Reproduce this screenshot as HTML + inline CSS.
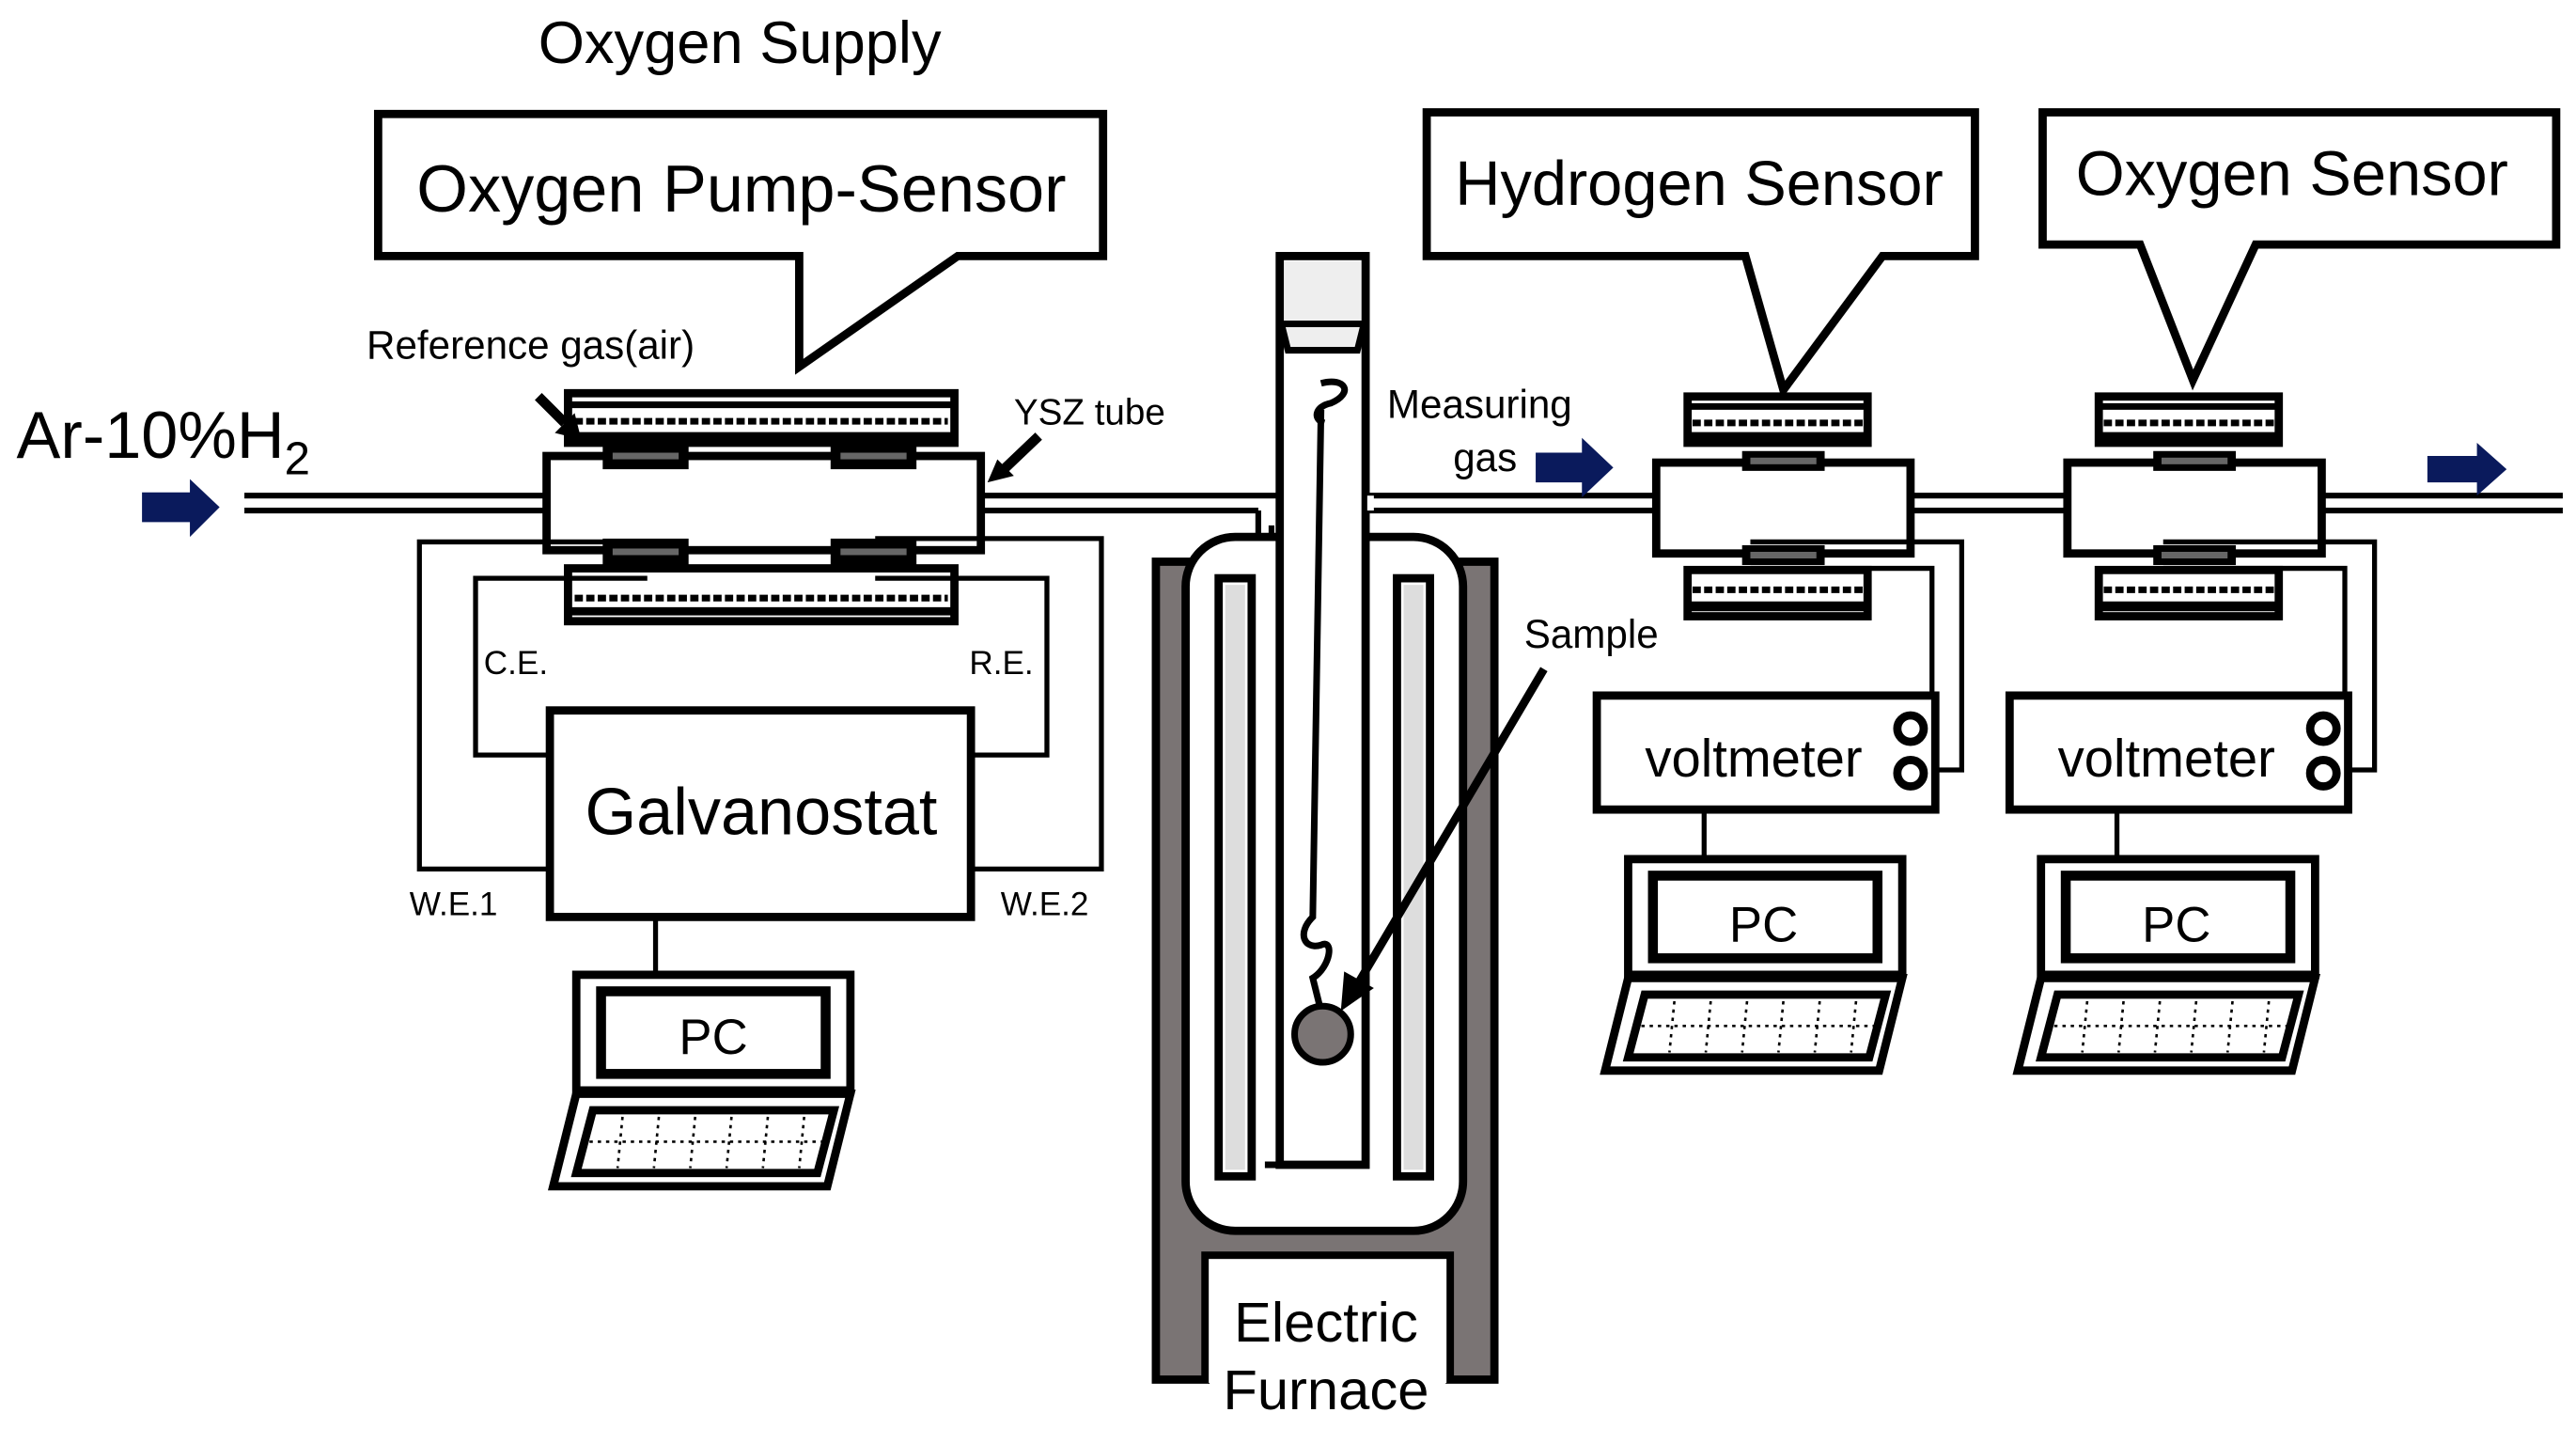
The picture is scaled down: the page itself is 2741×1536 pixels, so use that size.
<!DOCTYPE html>
<html><head><meta charset="utf-8"><style>
html,body{margin:0;padding:0;background:#fff;}
svg{display:block;}
text{font-family:"Liberation Sans",Arial,sans-serif;fill:#000;}
</style></head><body>
<svg width="2741" height="1536" viewBox="0 0 1560 874" preserveAspectRatio="none" xmlns="http://www.w3.org/2000/svg">
<defs>
<g id="pc">
  <rect x="0" y="0" width="166" height="70" fill="#fff" stroke="#000" stroke-width="5"/>
  <rect x="15" y="10" width="136" height="50" fill="#fff" stroke="#000" stroke-width="6"/>
  <path d="M0 72 L166 72 L152 128 L-14 128 Z" fill="#fff" stroke="#000" stroke-width="5"/>
  <path d="M10 82 L156 82 L146 120 L0 120 Z" fill="#fff" stroke="#000" stroke-width="5"/>
  <g stroke="#000" stroke-width="1.5" stroke-dasharray="2 3">
    <line x1="8" y1="101" x2="150" y2="101"/>
    <line x1="28" y1="86" x2="25" y2="117"/><line x1="50" y1="86" x2="47" y2="117"/>
    <line x1="72" y1="86" x2="69" y2="117"/><line x1="94" y1="86" x2="91" y2="117"/>
    <line x1="116" y1="86" x2="113" y2="117"/><line x1="138" y1="86" x2="135" y2="117"/>
  </g>
</g>
<g id="sens">
  <!-- top heater -->
  <rect x="19" y="0" width="109" height="28" fill="#fff" stroke="#000" stroke-width="5"/>
  <line x1="21" y1="6" x2="126" y2="6" stroke="#000" stroke-width="4"/>
  <line x1="22" y1="16" x2="125" y2="16" stroke="#000" stroke-width="4" stroke-dasharray="5 2"/>
  <line x1="21" y1="24" x2="126" y2="24" stroke="#000" stroke-width="5"/>
  <!-- body -->
  <rect x="0" y="40" width="154" height="55" fill="#fff" stroke="#000" stroke-width="5"/>
  <!-- electrodes -->
  <rect x="52" y="33" width="50" height="12" fill="#000"/><rect x="57" y="37" width="40" height="4" fill="#666"/>
  <rect x="52" y="90" width="50" height="12" fill="#000"/><rect x="57" y="94" width="40" height="4" fill="#666"/>
  <!-- bottom heater -->
  <rect x="19" y="105" width="109" height="28" fill="#fff" stroke="#000" stroke-width="5"/>
  <line x1="22" y1="117" x2="125" y2="117" stroke="#000" stroke-width="4" stroke-dasharray="5 2"/>
  <line x1="21" y1="127" x2="126" y2="127" stroke="#000" stroke-width="6"/>
</g>
</defs>

<!-- Titles -->
<text x="448" y="38" font-size="36" text-anchor="middle">Oxygen Supply</text>

<!-- Callout Oxygen pump-sensor -->
<path d="M229 69 L668 69 L668 155 L580 155 L484 222 L484 155 L229 155 Z" fill="#fff" stroke="#000" stroke-width="5"/>
<text x="449" y="128" font-size="40" text-anchor="middle">Oxygen Pump-Sensor</text>

<!-- Callout Hydrogen sensor -->
<path d="M864 68 L1196 68 L1196 155 L1140 155 L1080 236 L1057 155 L864 155 Z" fill="#fff" stroke="#000" stroke-width="5"/>
<text x="1029" y="124" font-size="38" text-anchor="middle">Hydrogen Sensor</text>

<!-- Callout Oxygen sensor -->
<path d="M1237 68 L1548 68 L1548 148 L1366 148 L1328 230 L1296 148 L1237 148 Z" fill="#fff" stroke="#000" stroke-width="5"/>
<text x="1388" y="118" font-size="38" text-anchor="middle">Oxygen Sensor</text>

<!-- Ar-10%H2 -->
<text x="10" y="277" font-size="40">Ar-10%H<tspan font-size="28" dy="10">2</tspan></text>
<path d="M86 298 L115 298 L115 290 L133 307 L115 325 L115 316 L86 316 Z" fill="#0a1a5c"/>

<!-- gas lines -->
<g stroke="#000" stroke-width="3.5" fill="none">
  <line x1="148" y1="300" x2="332" y2="300"/><line x1="148" y1="309" x2="332" y2="309"/>
  <line x1="594" y1="300" x2="773" y2="300"/><line x1="594" y1="309" x2="762" y2="309"/>
  <path d="M762 309 L762 708 L800 708"/>
  <path d="M770 318 L770 700"/>
  <line x1="828" y1="300" x2="1003" y2="300"/><line x1="828" y1="309" x2="1003" y2="309"/>
  <line x1="1157" y1="300" x2="1252" y2="300"/><line x1="1157" y1="309" x2="1252" y2="309"/>
  <line x1="1407" y1="300" x2="1552" y2="300"/><line x1="1407" y1="309" x2="1552" y2="309"/>
</g>

<!-- Pump-sensor -->
<rect x="344" y="238" width="234" height="30" fill="#fff" stroke="#000" stroke-width="5"/>
<line x1="346" y1="245" x2="576" y2="245" stroke="#000" stroke-width="4"/>
<line x1="348" y1="255" x2="574" y2="255" stroke="#000" stroke-width="4" stroke-dasharray="5 2"/>
<line x1="346" y1="264" x2="576" y2="264" stroke="#000" stroke-width="5"/>
<rect x="331" y="276" width="263" height="57" fill="#fff" stroke="#000" stroke-width="5"/>
<rect x="344" y="344" width="234" height="32" fill="#fff" stroke="#000" stroke-width="5"/>
<line x1="348" y1="362" x2="574" y2="362" stroke="#000" stroke-width="4" stroke-dasharray="5 2"/>
<line x1="346" y1="370" x2="576" y2="370" stroke="#000" stroke-width="5"/>
<rect x="365" y="268" width="52" height="16" fill="#000"/><rect x="371" y="274" width="40" height="4" fill="#666"/>
<rect x="503" y="268" width="52" height="16" fill="#000"/><rect x="509" y="274" width="40" height="4" fill="#666"/>
<rect x="365" y="326" width="52" height="16" fill="#000"/><rect x="371" y="332" width="40" height="4" fill="#666"/>
<rect x="503" y="326" width="52" height="16" fill="#000"/><rect x="509" y="332" width="40" height="4" fill="#666"/>

<!-- pump wires -->
<g stroke="#000" stroke-width="3" fill="none">
  <path d="M392 328 L254 328 L254 526 L333 526"/>
  <path d="M392 350 L288 350 L288 457 L333 457"/>
  <path d="M530 326 L667 326 L667 526 L588 526"/>
  <path d="M530 350 L634 350 L634 457 L588 457"/>
  <line x1="397" y1="555" x2="397" y2="590"/>
</g>
<rect x="333" y="430" width="255" height="125" fill="#fff" stroke="#000" stroke-width="5"/>
<text x="461" y="505" font-size="40" text-anchor="middle">Galvanostat</text>
<text x="293" y="408" font-size="20">C.E.</text>
<text x="587" y="408" font-size="20">R.E.</text>
<text x="248" y="554" font-size="20">W.E.1</text>
<text x="606" y="554" font-size="20">W.E.2</text>
<use href="#pc" x="349" y="590"/>
<text x="432" y="638" font-size="30" text-anchor="middle">PC</text>

<!-- Reference gas label + arrow -->
<text x="222" y="217" font-size="24">Reference gas(air)</text>
<path d="M326 240 L342 256" stroke="#000" stroke-width="6"/>
<path d="M336 262 L352 266 L348 250 Z" fill="#000"/>
<text x="614" y="257" font-size="22">YSZ tube</text>
<path d="M629 264 L608 284" stroke="#000" stroke-width="6"/>
<path d="M598 292 L614 288 L604 278 Z" fill="#000"/>

<!-- Furnace -->
<path d="M700 340 L905 340 L905 835 L878 835 L878 760 L730 760 L730 835 L700 835 Z" fill="#7a7474" stroke="#000" stroke-width="5"/>
<rect x="718" y="325" width="168" height="420" rx="30" fill="#fff" stroke="#000" stroke-width="5"/>
<rect x="738" y="350" width="20" height="362" fill="#fff" stroke="#000" stroke-width="5"/>
<rect x="742" y="354" width="12" height="354" fill="#ddd"/>
<rect x="846" y="350" width="20" height="362" fill="#fff" stroke="#000" stroke-width="5"/>
<rect x="850" y="354" width="12" height="354" fill="#ddd"/>
<rect x="732" y="762" width="144" height="75" fill="#fff"/>
<text x="803" y="812" font-size="34" text-anchor="middle">Electric</text>
<text x="803" y="853" font-size="34" text-anchor="middle">Furnace</text>

<!-- reaction tube -->
<rect x="775" y="155" width="52" height="550" fill="#fff" stroke="#000" stroke-width="5"/>
<rect x="778" y="158" width="46" height="38" fill="#eee"/>
<path d="M776 196 L826 196 L822 212 L780 212 Z" fill="#eee" stroke="#000" stroke-width="4"/>
<line x1="830" y1="300" x2="830" y2="309" stroke="#fff" stroke-width="4"/>
<path d="M766 705 L800 705" stroke="#000" stroke-width="4"/>
<!-- hanging wire -->
<path d="M800 232 C815 228 820 238 806 244 C796 246 795 254 802 256 M800 248 L795 555 C785 565 790 575 800 572 C808 568 806 585 795 592 L799 608" stroke="#000" stroke-width="4" fill="none"/>
<circle cx="801" cy="626" r="17" fill="#7a7474" stroke="#000" stroke-width="4"/>
<text x="923" y="392" font-size="24">Sample</text>
<path d="M935 405 L822 596" stroke="#000" stroke-width="5"/>
<path d="M812 612 L814 588 L832 598 Z" fill="#000"/>

<!-- Measuring gas -->
<text x="840" y="253" font-size="24">Measuring</text>
<text x="880" y="285" font-size="24">gas</text>
<path d="M930 274 L958 274 L958 265 L977 283 L958 301 L958 292 L930 292 Z" fill="#0a1a5c"/>
<path d="M1470 276 L1500 276 L1500 268 L1518 284 L1500 300 L1500 292 L1470 292 Z" fill="#0a1a5c"/>

<!-- sensors -->
<use href="#sens" x="1003" y="240"/>
<use href="#sens" x="1252" y="240"/>

<!-- sensor wires -->
<g stroke="#000" stroke-width="3" fill="none">
  <path d="M1060 328 L1188 328 L1188 466 L1172 466"/>
  <path d="M1060 344 L1170 344 L1170 440 L1160 440"/>
  <path d="M1310 328 L1438 328 L1438 466 L1422 466"/>
  <path d="M1310 344 L1420 344 L1420 440 L1410 440"/>
  <line x1="1032" y1="490" x2="1032" y2="520"/>
  <line x1="1282" y1="490" x2="1282" y2="520"/>
</g>
<rect x="967" y="421" width="205" height="69" fill="#fff" stroke="#000" stroke-width="5"/>
<text x="1062" y="470" font-size="32" text-anchor="middle">voltmeter</text>
<circle cx="1157" cy="441" r="8" fill="#fff" stroke="#000" stroke-width="5"/>
<circle cx="1157" cy="468" r="8" fill="#fff" stroke="#000" stroke-width="5"/>
<rect x="1217" y="421" width="205" height="69" fill="#fff" stroke="#000" stroke-width="5"/>
<text x="1312" y="470" font-size="32" text-anchor="middle">voltmeter</text>
<circle cx="1407" cy="441" r="8" fill="#fff" stroke="#000" stroke-width="5"/>
<circle cx="1407" cy="468" r="8" fill="#fff" stroke="#000" stroke-width="5"/>

<use href="#pc" x="986" y="520"/>
<text x="1068" y="570" font-size="30" text-anchor="middle">PC</text>
<use href="#pc" x="1236" y="520"/>
<text x="1318" y="570" font-size="30" text-anchor="middle">PC</text>
</svg>
</body></html>
